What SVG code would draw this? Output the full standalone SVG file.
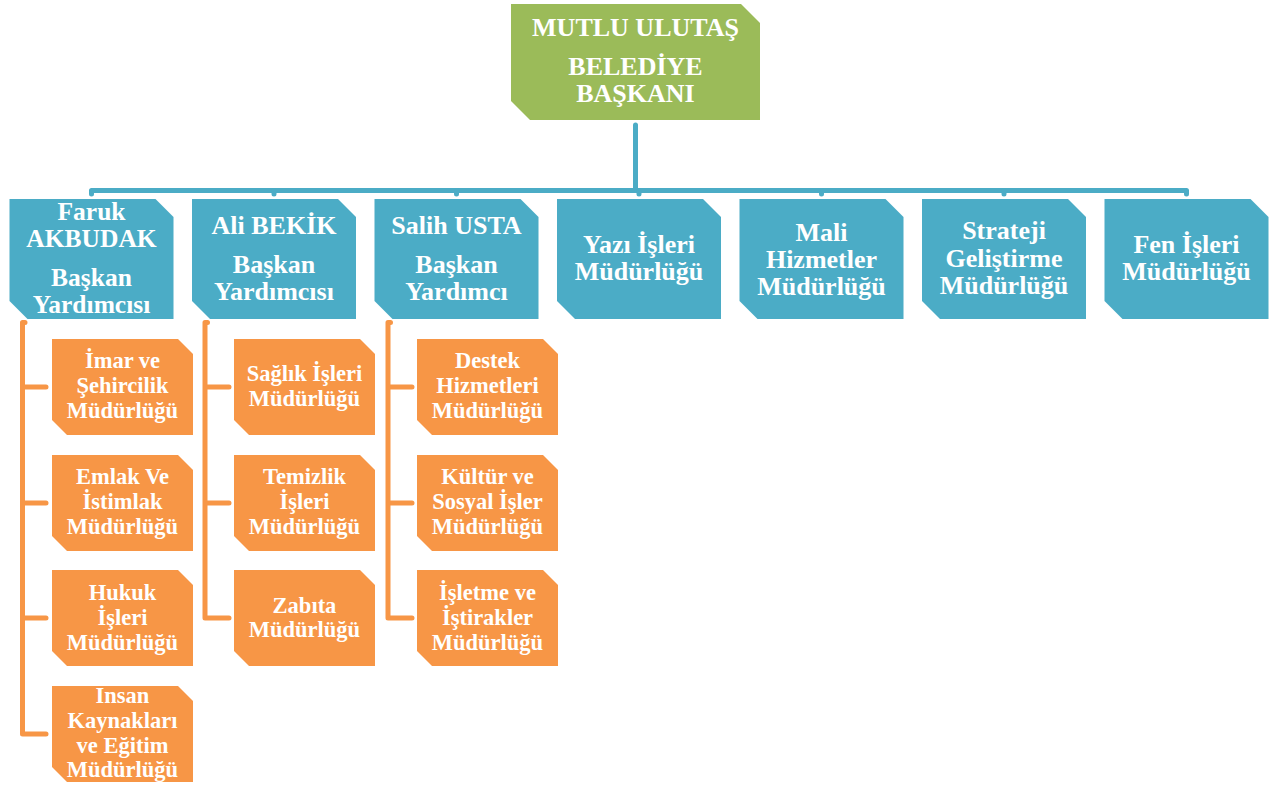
<svg xmlns="http://www.w3.org/2000/svg" width="1280" height="785" viewBox="0 0 1280 785">
<style>
.g{fill:#9BBB59}
.b{fill:#4BACC6}
.o{fill:#F79646}
text{font-family:'Liberation Serif','Times New Roman',serif;font-weight:700;fill:#fff;text-anchor:middle}
.tb{font-size:26px}
.tf{font-size:25.5px}
.to{font-size:22.5px}
.cb{fill:none;stroke:#4BACC6;stroke-width:5;stroke-linejoin:round;stroke-linecap:round}
.co{fill:none;stroke:#F79646;stroke-width:5;stroke-linejoin:round;stroke-linecap:round}
</style>
<rect width="1280" height="785" fill="#fff"/>
<g id="connectors">
<path class="cb" d="M635.5,125 V190.5"/>
<path class="cb" d="M91.5,194 V190.5 H1186.5 V194"/>
<path class="cb" d="M274,190.5 V194 M456.5,190.5 V194 M639,190.5 V194 M821.5,190.5 V194 M1004,190.5 V194"/>
<path class="co" d="M25,322.5 H22.5 V734 H46 M22.5,387 H46 M22.5,503 H46 M22.5,618 H46"/>
<path class="co" d="M207.5,322.5 H205 V618 H229 M205,387 H229 M205,503 H229"/>
<path class="co" d="M390.5,322.5 H388 V618 H412 M388,387 H412 M388,503 H412"/>
</g>
<g id="mayor">
<path class="g" d="M511,4 H741 L760,23 V120 H530 L511,101 Z"/>
<text class="tb" x="635.5" y="36">MUTLU ULUTAŞ</text>
<text class="tb" x="635.5" y="75">BELEDİYE</text>
<text class="tb" x="635.5" y="102">BAŞKANI</text>
</g>
<g id="faruk">
<path class="b" d="M9.5,199 H155.5 L173.5,217 V319 H27.5 L9.5,301 Z"/>
<text class="tf" x="91.5" y="219.5">Faruk</text>
<text class="tf" x="91.5" y="247">AKBUDAK</text>
<text class="tf" x="91.5" y="286">Başkan</text>
<text class="tf" x="91.5" y="313">Yardımcısı</text>
</g>
<g id="ali">
<path class="b" d="M192,199 H338 L356,217 V319 H210 L192,301 Z"/>
<text class="tb" x="274" y="234">Ali BEKİK</text>
<text class="tb" x="274" y="273">Başkan</text>
<text class="tb" x="274" y="300">Yardımcısı</text>
</g>
<g id="salih">
<path class="b" d="M374.5,199 H520.5 L538.5,217 V319 H392.5 L374.5,301 Z"/>
<text class="tb" x="456.5" y="234">Salih USTA</text>
<text class="tb" x="456.5" y="273">Başkan</text>
<text class="tb" x="456.5" y="300">Yardımcı</text>
</g>
<g id="yazi">
<path class="b" d="M557,199 H703 L721,217 V319 H575 L557,301 Z"/>
<text class="tb" x="639" y="253">Yazı İşleri</text>
<text class="tb" x="639" y="280">Müdürlüğü</text>
</g>
<g id="mali">
<path class="b" d="M739.5,199 H885.5 L903.5,217 V319 H757.5 L739.5,301 Z"/>
<text class="tb" x="821.5" y="241">Mali</text>
<text class="tb" x="821.5" y="268">Hizmetler</text>
<text class="tb" x="821.5" y="295">Müdürlüğü</text>
</g>
<g id="strateji">
<path class="b" d="M922,199 H1068 L1086,217 V319 H940 L922,301 Z"/>
<text class="tb" x="1004" y="239">Strateji</text>
<text class="tb" x="1004" y="266.5">Geliştirme</text>
<text class="tb" x="1004" y="294">Müdürlüğü</text>
</g>
<g id="fen">
<path class="b" d="M1104.5,199 H1250.5 L1268.5,217 V319 H1122.5 L1104.5,301 Z"/>
<text class="tb" x="1186.5" y="253">Fen İşleri</text>
<text class="tb" x="1186.5" y="280">Müdürlüğü</text>
</g>
<g id="imar">
<path class="o" d="M52,339 H178 L193,354 V435 H67 L52,420 Z"/>
<text class="to" x="122.5" y="368">İmar ve</text>
<text class="to" x="122.5" y="393">Şehircilik</text>
<text class="to" x="122.5" y="418">Müdürlüğü</text>
</g>
<g id="emlak">
<path class="o" d="M52,455 H178 L193,470 V551 H67 L52,536 Z"/>
<text class="to" x="122.5" y="484">Emlak Ve</text>
<text class="to" x="122.5" y="509">İstimlak</text>
<text class="to" x="122.5" y="534">Müdürlüğü</text>
</g>
<g id="hukuk">
<path class="o" d="M52,570 H178 L193,585 V666 H67 L52,651 Z"/>
<text class="to" x="122.5" y="600">Hukuk</text>
<text class="to" x="122.5" y="625">İşleri</text>
<text class="to" x="122.5" y="650">Müdürlüğü</text>
</g>
<g id="insan">
<path class="o" d="M52,686 H178 L193,701 V782 H67 L52,767 Z"/>
<text class="to" x="122.5" y="703">Insan</text>
<text class="to" x="122.5" y="728">Kaynakları</text>
<text class="to" x="122.5" y="753">ve Eğitim</text>
<text class="to" x="122.5" y="777">Müdürlüğü</text>
</g>
<g id="saglik">
<path class="o" d="M234,339 H360 L375,354 V435 H249 L234,420 Z"/>
<text class="to" x="304.5" y="381">Sağlık İşleri</text>
<text class="to" x="304.5" y="406">Müdürlüğü</text>
</g>
<g id="temizlik">
<path class="o" d="M234,455 H360 L375,470 V551 H249 L234,536 Z"/>
<text class="to" x="304.5" y="484">Temizlik</text>
<text class="to" x="304.5" y="509">İşleri</text>
<text class="to" x="304.5" y="534">Müdürlüğü</text>
</g>
<g id="zabita">
<path class="o" d="M234,570 H360 L375,585 V666 H249 L234,651 Z"/>
<text class="to" x="304.5" y="613">Zabıta</text>
<text class="to" x="304.5" y="637">Müdürlüğü</text>
</g>
<g id="destek">
<path class="o" d="M417,339 H543 L558,354 V435 H432 L417,420 Z"/>
<text class="to" x="487.5" y="368">Destek</text>
<text class="to" x="487.5" y="393">Hizmetleri</text>
<text class="to" x="487.5" y="418">Müdürlüğü</text>
</g>
<g id="kultur">
<path class="o" d="M417,455 H543 L558,470 V551 H432 L417,536 Z"/>
<text class="to" x="487.5" y="484">Kültür ve</text>
<text class="to" x="487.5" y="509">Sosyal İşler</text>
<text class="to" x="487.5" y="534">Müdürlüğü</text>
</g>
<g id="isletme">
<path class="o" d="M417,570 H543 L558,585 V666 H432 L417,651 Z"/>
<text class="to" x="487.5" y="600">İşletme ve</text>
<text class="to" x="487.5" y="625">İştirakler</text>
<text class="to" x="487.5" y="650">Müdürlüğü</text>
</g>
</svg>
